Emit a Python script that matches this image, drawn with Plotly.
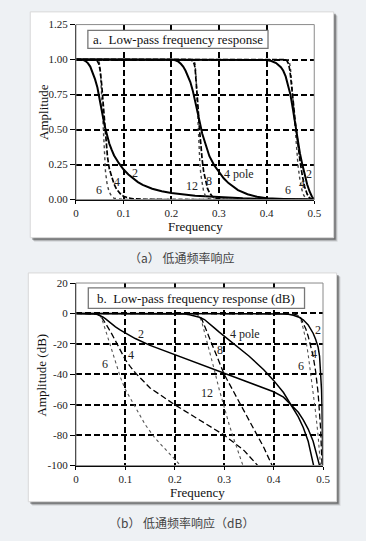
import plotly.graph_objects as go

# ---------------- data ----------------
# Panel a: linear amplitude
a_f_lo2 = [0, 0.01, 0.015, 0.02, 0.025, 0.03, 0.035, 0.04, 0.045, 0.05, 0.055, 0.06, 0.065, 0.07, 0.075, 0.08, 0.09, 0.1, 0.11, 0.12, 0.13, 0.14, 0.16, 0.18, 0.2, 0.25, 0.3, 0.35, 0.4, 0.45, 0.5]
a_v_lo2 = [1, 1, 0.998, 0.99, 0.975, 0.95, 0.91, 0.86, 0.8, 0.72, 0.62, 0.53, 0.46, 0.4, 0.355, 0.315, 0.26, 0.215, 0.18, 0.15, 0.125, 0.105, 0.078, 0.06, 0.047, 0.027, 0.016, 0.009, 0.005, 0.002, 0]
a_f_lo4 = [0, 0.04, 0.044, 0.048, 0.051, 0.054, 0.057, 0.06, 0.063, 0.066, 0.07, 0.075, 0.08, 0.085, 0.09, 0.095, 0.1, 0.11, 0.12, 0.14, 0.2, 0.5]
a_v_lo4 = [1, 1, 0.995, 0.97, 0.92, 0.82, 0.68, 0.53, 0.41, 0.31, 0.22, 0.155, 0.11, 0.075, 0.05, 0.034, 0.024, 0.012, 0.006, 0.002, 0.0005, 0]
a_f_lo6 = [0, 0.045, 0.048, 0.05, 0.052, 0.054, 0.056, 0.058, 0.06, 0.062, 0.065, 0.068, 0.072, 0.076, 0.08, 0.09, 0.1, 0.5]
a_v_lo6 = [1, 1, 0.99, 0.96, 0.87, 0.72, 0.55, 0.4, 0.28, 0.2, 0.12, 0.075, 0.04, 0.02, 0.01, 0.003, 0.001, 0]

a_f_mid4 = [0, 0.2, 0.205, 0.21, 0.215, 0.22, 0.225, 0.23, 0.235, 0.24, 0.245, 0.25, 0.255, 0.26, 0.265, 0.27, 0.275, 0.28, 0.29, 0.3, 0.31, 0.32, 0.33, 0.34, 0.36, 0.38, 0.4, 0.43, 0.46, 0.5]
a_v_mid4 = [1, 1, 0.998, 0.993, 0.985, 0.97, 0.95, 0.92, 0.885, 0.84, 0.78, 0.71, 0.63, 0.55, 0.47, 0.41, 0.355, 0.31, 0.245, 0.195, 0.152, 0.118, 0.09, 0.068, 0.038, 0.02, 0.009, 0.003, 0.001, 0]
a_f_mid8 = [0, 0.24, 0.245, 0.248, 0.25, 0.253, 0.256, 0.259, 0.262, 0.265, 0.268, 0.272, 0.276, 0.28, 0.285, 0.29, 0.295, 0.3, 0.31, 0.5]
a_v_mid8 = [1, 1, 0.99, 0.97, 0.94, 0.83, 0.67, 0.51, 0.38, 0.28, 0.2, 0.13, 0.08, 0.05, 0.027, 0.014, 0.007, 0.004, 0.001, 0]
a_f_mid12 = [0, 0.245, 0.248, 0.25, 0.252, 0.254, 0.256, 0.258, 0.26, 0.262, 0.265, 0.268, 0.272, 0.276, 0.28, 0.29, 0.5]
a_v_mid12 = [1, 1, 0.99, 0.97, 0.87, 0.7, 0.52, 0.37, 0.26, 0.18, 0.1, 0.055, 0.025, 0.01, 0.004, 0.001, 0]

a_f_hi2 = [0, 0.39, 0.4, 0.41, 0.42, 0.43, 0.435, 0.44, 0.445, 0.45, 0.455, 0.46, 0.465, 0.47, 0.475, 0.48, 0.485, 0.49, 0.495, 0.5]
a_v_hi2 = [1, 1, 0.997, 0.99, 0.975, 0.945, 0.92, 0.88, 0.82, 0.75, 0.65, 0.54, 0.43, 0.33, 0.25, 0.175, 0.11, 0.06, 0.022, 0]
a_f_hi4 = [0, 0.44, 0.443, 0.446, 0.449, 0.452, 0.455, 0.46, 0.465, 0.47, 0.475, 0.48, 0.485, 0.49, 0.495, 0.5]
a_v_hi4 = [1, 1, 0.99, 0.97, 0.92, 0.84, 0.73, 0.56, 0.41, 0.28, 0.17, 0.09, 0.04, 0.013, 0.003, 0]
a_f_hi6 = [0, 0.445, 0.448, 0.45, 0.453, 0.456, 0.459, 0.462, 0.466, 0.47, 0.474, 0.478, 0.482, 0.486, 0.49, 0.5]
a_v_hi6 = [1, 1, 0.98, 0.94, 0.82, 0.67, 0.52, 0.39, 0.24, 0.14, 0.07, 0.03, 0.012, 0.004, 0.001, 0]

# Panel b: amplitude in dB
b_f_lo2 = [0, 0.02, 0.03, 0.04, 0.045, 0.05, 0.055, 0.06, 0.065, 0.07, 0.08, 0.09, 0.1, 0.12, 0.15, 0.2, 0.25, 0.3, 0.35, 0.4, 0.42, 0.435, 0.45, 0.46, 0.47, 0.48, 0.487, 0.493]
b_v_lo2 = [0, 0, -0.1, -0.4, -0.8, -1.5, -2.5, -3.6, -5, -6.3, -8.8, -11, -13, -16.5, -21, -27, -33, -39, -45, -51.5, -55, -60, -65, -70, -76, -84, -92, -100]
b_f_lo4 = [0, 0.03, 0.04, 0.045, 0.05, 0.055, 0.06, 0.07, 0.08, 0.09, 0.1, 0.11, 0.12, 0.15, 0.2, 0.25, 0.3, 0.34, 0.368]
b_v_lo4 = [0, 0, -0.3, -0.8, -2, -4, -6.5, -12, -18, -24.5, -30.5, -35, -39, -49, -60, -70, -80, -90, -100]
b_f_lo6 = [0, 0.04, 0.045, 0.05, 0.055, 0.06, 0.07, 0.08, 0.09, 0.1, 0.12, 0.14, 0.16, 0.18, 0.2, 0.212]
b_v_lo6 = [0, 0, -0.5, -2, -6, -11, -22, -32, -42, -50, -62, -73, -82, -89, -96, -100]

b_f_mid4 = [0, 0.19, 0.21, 0.22, 0.23, 0.24, 0.25, 0.26, 0.27, 0.28, 0.29, 0.3, 0.32, 0.35, 0.38, 0.4, 0.42, 0.435, 0.45, 0.46, 0.47, 0.481]
b_v_mid4 = [0, 0, -0.2, -0.4, -0.8, -1.5, -2.5, -4, -6.5, -9.5, -12.3, -15, -20, -28, -37, -44, -52, -60, -68, -75, -84, -100]
b_f_mid8 = [0, 0.235, 0.245, 0.25, 0.255, 0.26, 0.27, 0.28, 0.29, 0.3, 0.32, 0.34, 0.36, 0.38, 0.397]
b_v_mid8 = [0, 0, -0.5, -1.5, -4, -8, -17, -25, -33, -40, -52, -64, -76, -88, -100]
b_f_mid12 = [0, 0.24, 0.245, 0.25, 0.255, 0.26, 0.27, 0.28, 0.29, 0.3, 0.31, 0.32, 0.33, 0.338]
b_v_mid12 = [0, 0, -0.5, -2, -6, -12, -25, -37, -50, -62, -73, -83, -92, -100]

b_f_hi2 = [0, 0.38, 0.4, 0.42, 0.43, 0.44, 0.45, 0.46, 0.47, 0.475, 0.48, 0.485, 0.49, 0.493, 0.495, 0.497, 0.498, 0.499, 0.4996]
b_v_hi2 = [0, 0, -0.1, -0.3, -0.6, -1.2, -2.3, -4.2, -7.5, -10, -13, -17, -22, -28, -36, -50, -62, -80, -100]
b_f_hi4 = [0, 0.43, 0.44, 0.445, 0.45, 0.455, 0.46, 0.465, 0.47, 0.475, 0.48, 0.485, 0.49, 0.495, 0.498]
b_v_hi4 = [0, 0, -0.3, -0.7, -1.5, -3, -6, -10, -15, -21, -28, -38, -52, -75, -100]
b_f_hi6 = [0, 0.435, 0.445, 0.45, 0.455, 0.46, 0.465, 0.47, 0.475, 0.48, 0.485, 0.49, 0.495]
b_v_hi6 = [0, 0, -0.4, -1.5, -4, -10, -17, -27, -39, -52, -65, -80, -100]

a_yticks = [0, 0.25, 0.5, 0.75, 1.0, 1.25]
a_yticktext = ["0.00", "0.25", "0.50", "0.75", "1.00", "1.25"]
b_yticks = [20, 0, -20, -40, -60, -80, -100]
b_yticktext = ["20", "0", "-20", "-40", "-60", "-80", "-100"]
xticks = [0, 0.1, 0.2, 0.3, 0.4, 0.5]
xticktext = ["0", "0.1", "0.2", "0.3", "0.4", "0.5"]

a_labels = [("2", 0.124, 0.19), ("4", 0.086, 0.126), ("6", 0.048, 0.072),
            ("12", 0.2435, 0.10), ("8", 0.28, 0.133), ("4 pole", 0.3415, 0.184),
            ("2", 0.488, 0.18), ("4", 0.474, 0.114), ("6", 0.4456, 0.068)]
b_labels = [("2", 0.1325, -13.8), ("4 pole", 0.3425, -13.8), ("2", 0.489, -10.6),
            ("8", 0.2907, -24.3), ("4", 0.1115, -27.5), ("4", 0.482, -26.7),
            ("6", 0.059, -33.5), ("6", 0.456, -34.5), ("12", 0.2644, -52.1)]

# ---------------- figure ----------------
W, H = 366, 541
SERIF = "Liberation Serif, Times New Roman, serif"
CJK = "Noto Sans CJK SC, sans-serif"


def px(x):
    return x / W


def py(y):
    return 1 - y / H


fig = go.Figure()

solid_a = dict(color="black", width=2)
dash_a = dict(color="black", width=1.7, dash="5px,2px")
dot_a = dict(color="#444", width=1.4, dash="dot")
solid_b = dict(color="black", width=1.5)
dash_b = dict(color="black", width=1.3, dash="6px,3px")
dot_b = dict(color="#555", width=1.1, dash="dot")

for f, v, ln in [(a_f_lo6, a_v_lo6, dot_a), (a_f_lo4, a_v_lo4, dash_a), (a_f_lo2, a_v_lo2, solid_a),
                 (a_f_mid12, a_v_mid12, dot_a), (a_f_mid8, a_v_mid8, dash_a), (a_f_mid4, a_v_mid4, solid_a),
                 (a_f_hi6, a_v_hi6, dot_a), (a_f_hi4, a_v_hi4, dash_a), (a_f_hi2, a_v_hi2, solid_a)]:
    fig.add_trace(go.Scatter(x=f, y=v, mode="lines", line=ln, xaxis="x", yaxis="y", hoverinfo="skip"))

for f, v, ln in [(b_f_lo6, b_v_lo6, dot_b), (b_f_lo4, b_v_lo4, dash_b), (b_f_lo2, b_v_lo2, solid_b),
                 (b_f_mid12, b_v_mid12, dot_b), (b_f_mid8, b_v_mid8, dash_b), (b_f_mid4, b_v_mid4, solid_b),
                 (b_f_hi6, b_v_hi6, dot_b), (b_f_hi4, b_v_hi4, dash_b), (b_f_hi2, b_v_hi2, solid_b)]:
    fig.add_trace(go.Scatter(x=f, y=v, mode="lines", line=ln, xaxis="x2", yaxis="y2", hoverinfo="skip"))

grid_common = dict(showgrid=True, gridcolor="black", gridwidth=1.6, griddash="6px,3px", ticklen=0)

axis_common = dict(showline=True, linecolor="black", linewidth=1, ticks="outside", tickcolor="black",
                   tickwidth=1, showgrid=False, zeroline=False, tickfont=dict(family=SERIF, size=11, color="#222"),
                   fixedrange=True)

shapes = []
# cards with shadows
for (x0, y0, x1, y1) in [(28, 6, 340, 237), (26, 273, 343, 507)]:
    for off, op in [(4, 0.12), (3, 0.25), (2, 0.45)]:
        shapes.append(dict(type="rect", xref="paper", yref="paper", layer="below",
                           x0=px(x0 + off), x1=px(x1 + off), y0=py(y0 + off), y1=py(y1 + off),
                           fillcolor=f"rgba(40,40,40,{op})", line=dict(width=0)))
    shapes.append(dict(type="rect", xref="paper", yref="paper", layer="below",
                       x0=px(x0), x1=px(x1), y0=py(y0), y1=py(y1),
                       fillcolor="white", line=dict(color="#d8d8d8", width=1)))

# plot frames (gray)
for xr, yr in [("x", "y"), ("x2", "y2")]:
    shapes.append(dict(type="rect", xref=f"{xr} domain", yref=f"{yr} domain", x0=0, x1=1, y0=0, y1=1,
                       line=dict(color="#8a8a8a", width=1), layer="above"))

# title boxes
shapes.append(dict(type="rect", xref="x", yref="y", x0=0.025, x1=0.403, y0=1.08, y1=1.208,
                   fillcolor="white", line=dict(color="#777", width=1.3), layer="above"))
shapes.append(dict(type="rect", xref="x2", yref="y2", x0=0.025, x1=0.4626, y0=3.3, y1=16.8,
                   fillcolor="white", line=dict(color="#777", width=1.3), layer="above"))

C = dict(xanchor="center", yanchor="middle", showarrow=False)
annotations = []
annotations.append(dict(text="a.&nbsp; Low-pass frequency response", xref="x", yref="y", x=0.214, y=1.144,
                        font=dict(family=SERIF, size=13, color="#111"), **C))
annotations.append(dict(text="b.&nbsp; Low-pass frequency response (dB)", xref="x2", yref="y2", x=0.2438, y=10.0,
                        font=dict(family=SERIF, size=13, color="#111"), **C))
for t, x, y in a_labels:
    annotations.append(dict(text=t, xref="x", yref="y", x=x, y=y,
                            font=dict(family=SERIF, size=12, color="#222"), **C))
for t, x, y in b_labels:
    annotations.append(dict(text=t, xref="x2", yref="y2", x=x, y=y,
                            font=dict(family=SERIF, size=12, color="#222"), **C))

# axis titles and captions
annotations += [
    dict(text="Frequency", xref="paper", yref="paper", x=px(197.5), y=py(225),
         font=dict(family=SERIF, size=13, color="#111"), **C),
    dict(text="Amplitude", xref="paper", yref="paper", x=px(41.5), y=py(108), textangle=-90,
         font=dict(family=SERIF, size=13, color="#111"), **C),
    dict(text="Frequency", xref="paper", yref="paper", x=px(200), y=py(497.5),
         font=dict(family=SERIF, size=13, color="#111"), **C),
    dict(text="Amplitude (dB)", xref="paper", yref="paper", x=px(40), y=py(377), textangle=-90,
         font=dict(family=SERIF, size=13, color="#111"), **C),
    dict(text="（a） 低通频率响应", xref="paper", yref="paper", x=px(184), y=py(257),
         font=dict(family=CJK, size=12, color="#444"), **C),
    dict(text="（b） 低通频率响应（dB）", xref="paper", yref="paper", x=px(184), y=py(528),
         font=dict(family=CJK, size=12, color="#444"), **C),
]

fig.update_layout(
    width=W, height=H, margin=dict(l=0, r=0, t=0, b=0),
    paper_bgcolor="#eef1f4", plot_bgcolor="white", showlegend=False,
    xaxis=dict(domain=[px(75), px(320)], range=[0, 0.5], anchor="y", tickvals=xticks, ticktext=xticktext,
               ticklen=3, minor=dict(tickvals=[0.1, 0.2, 0.3, 0.4], **grid_common), **axis_common),
    yaxis=dict(domain=[py(198), py(19)], range=[0, 1.25], anchor="x", tickvals=a_yticks, ticktext=a_yticktext,
               ticklen=5, minor=dict(tickvals=[0.25, 0.5, 0.75, 1.0], **grid_common), **axis_common),
    xaxis2=dict(domain=[px(75), px(329)], range=[0, 0.5], anchor="y2", tickvals=xticks, ticktext=xticktext,
                ticklen=3, minor=dict(tickvals=[0.1, 0.2, 0.3, 0.4], **grid_common), **axis_common),
    yaxis2=dict(domain=[py(470), py(283.3)], range=[-100, 20], anchor="x2", tickvals=b_yticks,
                ticktext=b_yticktext, ticklen=5,
                minor=dict(tickvals=[0, -20, -40, -60, -80], **grid_common), **axis_common),
    shapes=shapes, annotations=annotations,
)

fig.write_html("out.html", post_script="document.body.style.margin='0';", config={"displayModeBar": False})
